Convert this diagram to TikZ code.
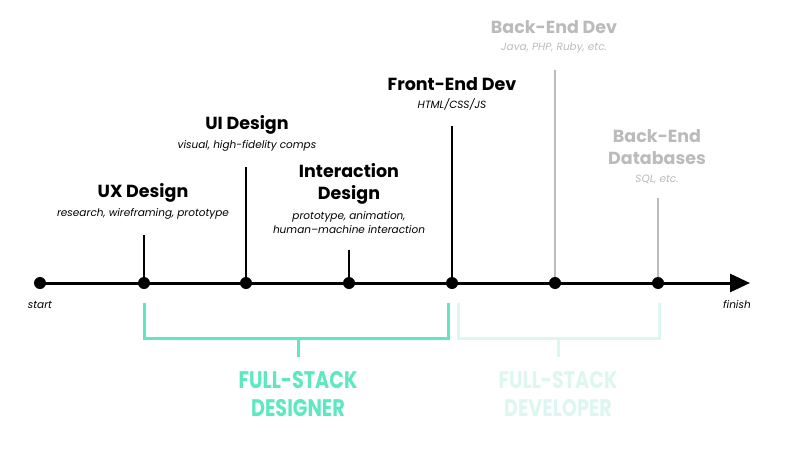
\documentclass[tikz,border=0pt]{standalone}
\usepackage{fontspec}
\setmainfont{Poppins}
\newfontfamily\fsfont[FakeStretch=0.8]{Poppins}
\usetikzlibrary{arrows.meta}
\definecolor{mint}{HTML}{5EE8C2}
\definecolor{pale}{HTML}{DDF7F0}
\definecolor{greyt}{HTML}{BBBBBB}
\tikzset{
  dot/.style={circle,fill=#1,inner sep=0pt,minimum size=12pt},
  dot/.default=black,
  stem/.style={line width=2.6pt,draw=#1},
  stem/.default=black,
  ttl/.style={font=\fontsize{17.5}{21.5}\selectfont\bfseries,text=#1,align=center,inner sep=0pt},
  ttl/.default=black,
  sub/.style={font=\fontsize{10.5}{14}\selectfont\itshape,text=#1,align=center,inner sep=0pt},
  sub/.default=black,
  brk/.style={line width=3pt,draw=#1},
  fs/.style={font=\fsfont\fontsize{24}{28}\selectfont\bfseries,text=#1,align=center,inner sep=0pt},
}
\begin{document}
\begin{tikzpicture}[x=1pt,y=-1pt]
\useasboundingbox (0,0) rectangle (787,463);
% axis
\node[dot] (s) at (40,283) {};
\coordinate (e) at (750,283);
\draw[line width=3pt,-{Triangle[length=20pt,width=18pt]}] (s.center) -- (e);
% dots
\node[dot] (d1) at (144,283) {};
\node[dot] (d2) at (246,283) {};
\node[dot] (d3) at (349,283) {};
\node[dot] (d4) at (452,283) {};
\node[dot] (d5) at (555,283) {};
\node[dot] (d6) at (658,283) {};
% stems
\coordinate (t1) at (144,235);
\coordinate (t2) at (246,167);
\coordinate (t3) at (349,250);
\coordinate (t4) at (452,126);
\coordinate (t5) at (555,70);
\coordinate (t6) at (658,198);
\draw[stem] (d1.center) -- (t1);
\draw[stem] (d2.center) -- (t2);
\draw[stem] (d3.center) -- (t3);
\draw[stem] (d4.center) -- (t4);
\draw[stem=greyt] (t5) -- (d5.north);
\draw[stem=greyt] (t6) -- (d6.north);
% labels
\node[ttl] (l1) at (143,193) {UX Design};
\node[sub] (s1) at (143,214) {research, wireframing, prototype};
\node[ttl] (l2) at (247,125) {UI Design};
\node[sub] (s2) at (247,146) {visual, high-fidelity comps};
\node[ttl] (l3) at (349,184) {Interaction\\Design};
\node[sub] (s3) at (349,223) {prototype, animation,\\human–machine interaction};
\node[ttl] (l4) at (452,84) {Front-End Dev};
\node[sub] (s4) at (452,104) {HTML/CSS/JS};
\node[ttl=greyt] (l5) at (554,27) {Back-End Dev};
\node[sub=greyt] (s5) at (554,48) {Java, PHP, Ruby, etc.};
\node[ttl=greyt] (l6) at (657,147) {Back-End\\Databases};
\node[sub=greyt] (s6) at (657,180) {SQL, etc.};
\node[sub] (st) at (40,305) {start};
\node[sub] (fi) at (737,305) {finish};
% brackets
\coordinate (a1) at (144,303);
\coordinate (a2) at (448,303);
\coordinate (m1) at (298,338);
\coordinate (n1) at (298,357);
\draw[brk=mint] (a1) |- (m1) -| (a2);
\draw[brk=mint] (m1) -- (n1);
\coordinate (b1) at (458,303);
\coordinate (b2) at (659,303);
\coordinate (m2) at (558,338);
\coordinate (n2) at (558,357);
\draw[brk=pale] (b1) |- (m2) -| (b2);
\draw[brk=pale] (m2) -- (n2);
\node[fs=mint] (g1) at (298,394) {FULL-STACK\\DESIGNER};
\node[fs=pale] (g2) at (558,394) {FULL-STACK\\DEVELOPER};
\end{tikzpicture}
\end{document}
